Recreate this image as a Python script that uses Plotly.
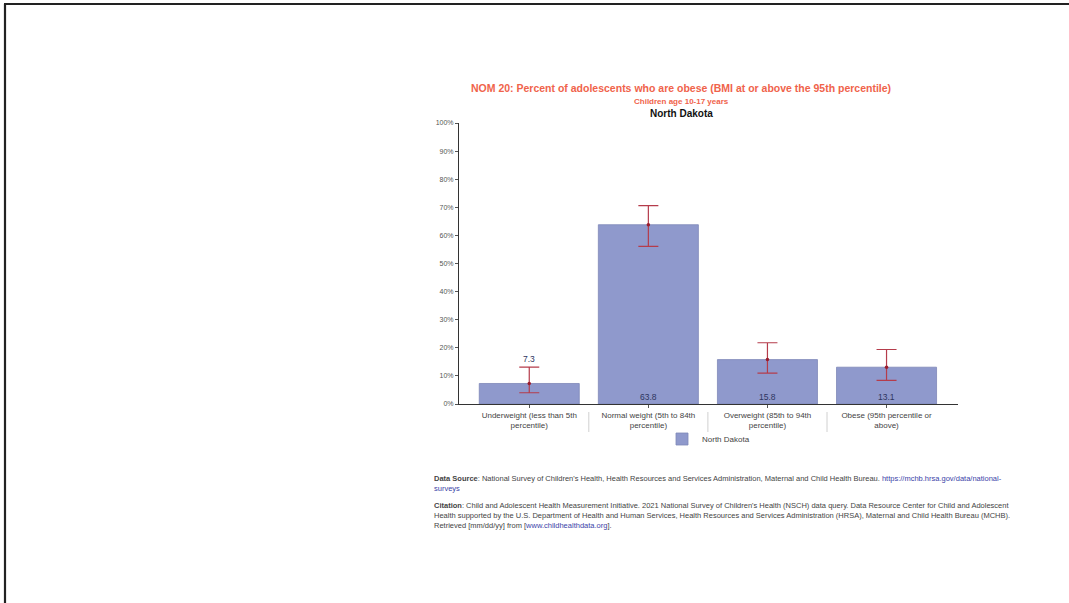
import plotly.graph_objects as go

categories = [
    "Underweight (less than 5th<br>percentile)",
    "Normal weight (5th to 84th<br>percentile)",
    "Overweight (85th to 94th<br>percentile)",
    "Obese (95th percentile or<br>above)",
]
values = [7.3, 63.8, 15.8, 13.1]
ci_lower = [4.0, 56.1, 11.0, 8.4]
ci_upper = [13.1, 70.6, 21.8, 19.4]
label_outside = [True, False, False, False]
y_ticks = [0, 10, 20, 30, 40, 50, 60, 70, 80, 90, 100]
series_name = "North Dakota"

W, H = 1069, 603
L, R, T, B = 459, 958, 123, 404  # plot area pixels


def px(X):
    return (X - L) / (R - L)


def py(Y):
    return (B - Y) / (B - T)


xs = list(range(len(categories)))
err_plus = [u - v for u, v in zip(ci_upper, values)]
err_minus = [v - l for v, l in zip(values, ci_lower)]

fig = go.Figure()
fig.add_trace(go.Bar(
    x=xs, y=values, name=series_name, width=0.84,
    marker=dict(color="#8f99cc", line=dict(color="#7f88b8", width=0.8)),
    hoverinfo="skip",
))
fig.add_trace(go.Scatter(
    x=xs, y=values, mode="markers", showlegend=False,
    marker=dict(color="#9a1c2c", size=3.5),
    error_y=dict(type="data", array=err_plus, arrayminus=err_minus,
                 color="#b53c4b", thickness=1.2, width=10),
    hoverinfo="skip",
))

font = "Liberation Sans, Arial, sans-serif"
annotations = []
for i, (v, up, out) in enumerate(zip(values, ci_upper, label_outside)):
    annotations.append(dict(
        x=i, y=(up if out else 0), xref="x", yref="y",
        text=f"{v:.1f}", showarrow=False, yanchor="bottom", yshift=(1 if out else 0),
        font=dict(family=font, size=8.5, color="#2e3560"),
    ))

annotations += [
    dict(x=px(681), y=py(88), xref="paper", yref="paper", showarrow=False,
         text="<b>NOM 20: Percent of adolescents who are obese (BMI at or above the 95th percentile)</b>",
         font=dict(family=font, size=10.5, color="#f0634b"), xanchor="center", yanchor="middle"),
    dict(x=px(681), y=py(102), xref="paper", yref="paper", showarrow=False,
         text="<b>Children age 10-17 years</b>",
         font=dict(family=font, size=8, color="#f0634b"), xanchor="center", yanchor="middle"),
    dict(x=px(681), y=py(113.5), xref="paper", yref="paper", showarrow=False,
         text="<b>North Dakota</b>",
         font=dict(family=font, size=10, color="#111111"), xanchor="center", yanchor="middle"),
    dict(x=px(432), y=py(472), xref="paper", yref="paper", showarrow=False,
         xanchor="left", yanchor="top", align="left",
         text=("<b>Data Source</b>: National Survey of Children's Health, Health Resources and Services Administration, "
               "Maternal and Child Health Bureau. <span style='color:#3b3fa8'>https://mchb.hrsa.gov/data/national-</span><br>"
               "<span style='color:#3b3fa8'>surveys</span>"),
         font=dict(family=font, size=7.5, color="#444444")),
    dict(x=px(432), y=py(499), xref="paper", yref="paper", showarrow=False,
         xanchor="left", yanchor="top", align="left",
         text=("<b>Citation</b>: Child and Adolescent Health Measurement Initiative. 2021 National Survey of Children's Health (NSCH) data query. "
               "Data Resource Center for Child and Adolescent<br>"
               "Health supported by the U.S. Department of Health and Human Services, Health Resources and Services Administration (HRSA), "
               "Maternal and Child Health Bureau (MCHB).<br>"
               "Retrieved [mm/dd/yy] from [<span style='color:#3b3fa8'>www.childhealthdata.org</span>]."),
         font=dict(family=font, size=7.5, color="#444444")),
]

shapes = []
for i in range(len(categories) - 1):
    shapes.append(dict(type="line", xref="x", yref="paper", x0=i + 0.5, x1=i + 0.5,
                       y0=py(412), y1=py(432), line=dict(color="#d0d0d0", width=1)))
# slide border
shapes.append(dict(type="line", xref="paper", yref="paper", x0=px(5), x1=px(5),
                   y0=py(4), y1=py(W), line=dict(color="#222222", width=2.2)))
shapes.append(dict(type="line", xref="paper", yref="paper", x0=px(4), x1=px(1080),
                   y0=py(4), y1=py(4), line=dict(color="#222222", width=2.2)))

fig.update_layout(
    width=W, height=H,
    margin=dict(l=L, r=W - R, t=T, b=H - B, pad=0),
    paper_bgcolor="white", plot_bgcolor="white",
    font=dict(family=font, size=7, color="#444444"),
    bargap=0.16,
    showlegend=True,
    legend=dict(orientation="h", x=0.5, xanchor="center", y=py(439), yanchor="middle",
                font=dict(family=font, size=8, color="#444444"),
                itemwidth=30, bgcolor="rgba(0,0,0,0)"),
    annotations=annotations,
    shapes=shapes,
    xaxis=dict(
        range=[-0.59, 3.6], tickmode="array", tickvals=xs, ticktext=categories,
        showline=True, linecolor="#333333", linewidth=1,
        ticks="outside", ticklen=3, tickcolor="#555555",
        showgrid=False, zeroline=False,
        tickfont=dict(family=font, size=8, color="#444444"),
        fixedrange=True,
    ),
    yaxis=dict(
        range=[0, 100], tickmode="array", tickvals=y_ticks,
        ticktext=[f"{t}%" for t in y_ticks],
        showline=True, linecolor="#333333", linewidth=1,
        ticks="outside", ticklen=3, tickcolor="#555555",
        showgrid=False, zeroline=False,
        tickfont=dict(family=font, size=7, color="#555555"),
        fixedrange=True,
    ),
)

fig.write_html("out.html", config={"displayModeBar": False},
               post_script="document.body.style.margin='0';")
